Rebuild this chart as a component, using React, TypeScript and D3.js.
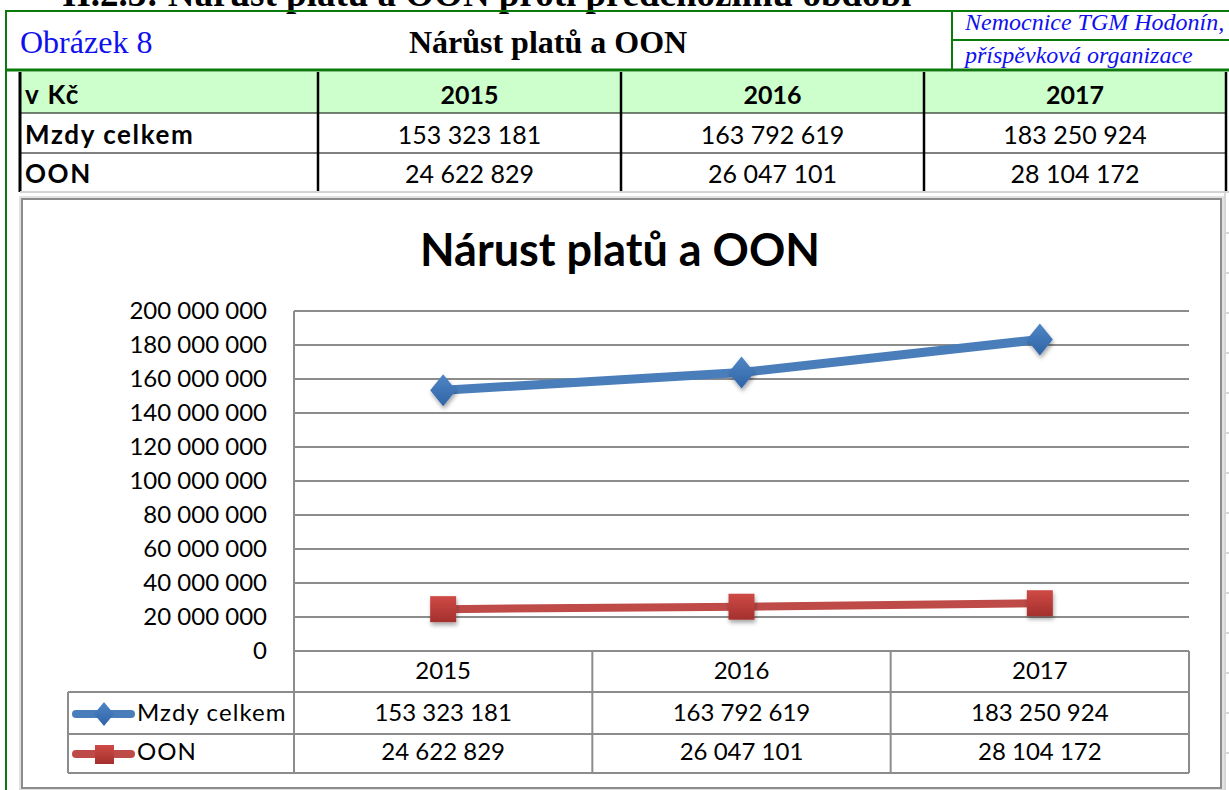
import React from "react";
import * as d3 from "d3";

const years = ["2015", "2016", "2017"];
const seriesNames = ["Mzdy celkem", "OON"];
const mzdy = [153323181, 163792619, 183250924];
const oon = [24622829, 26047101, 28104172];
const yTicks = [0, 20000000, 40000000, 60000000, 80000000, 100000000, 120000000, 140000000, 160000000, 180000000, 200000000];

const W = 1229;
const H = 790;
const SANS = "Lato, 'Open Sans', sans-serif";
const SERIF = "'Liberation Serif', 'Times New Roman', serif";

const cz = d3.formatLocale({ decimal: ",", thousands: " ", grouping: [3], currency: ["", " Kč"] });
const fmt = cz.format(",d");

const BLUE = "#4a7ebb";
const RED = "#be4b48";
const GRID = "#8c8c8c";

export default function App() {
  // plot area of the Excel chart
  const plot = { left: 294, right: 1189, top: 311, bottom: 651 };
  const x = d3.scaleBand().domain(years).range([plot.left, plot.right]);
  const y = d3.scaleLinear().domain([0, 200000000]).range([plot.bottom, plot.top]);
  const cx = (d: string) => (x(d) as number) + x.bandwidth() / 2;

  const line = d3.line<number>()
    .x((_, i) => cx(years[i]))
    .y(d => y(d));

  // top table
  const tCols = [20, 318, 621, 924, 1226];
  const tRows = [72, 113, 153, 192];
  const tableRows = [
    { label: seriesNames[0], values: mzdy },
    { label: seriesNames[1], values: oon },
  ];

  // data table under the chart
  const dtRows = [plot.bottom, 692, 734, 773];
  const dtLeft = 68;

  const diamond = (px: number, py: number, hw: number, hh: number) =>
    `M${px},${py - hh}L${px + hw},${py}L${px},${py + hh}L${px - hw},${py}Z`;

  return (
    <svg width={W} height={H} style={{ position: "fixed", left: 0, top: 0, background: "#fff" }}>
      <defs>
        <filter id="shadow" x="-50%" y="-50%" width="200%" height="200%">
          <feDropShadow dx="1" dy="3" stdDeviation="2" floodColor="#000" floodOpacity="0.35" />
        </filter>
        <linearGradient id="redGrad" x1="0" y1="0" x2="0" y2="1">
          <stop offset="0" stopColor="#cf4a46" />
          <stop offset="1" stopColor="#a3302d" />
        </linearGradient>
        <linearGradient id="blueGrad" x1="0" y1="0" x2="0" y2="1">
          <stop offset="0" stopColor="#4f86c6" />
          <stop offset="1" stopColor="#2f64a6" />
        </linearGradient>
      </defs>

      {/* cut-off heading above */}
      <text x={62} y={6} fontFamily={SERIF} fontWeight="bold" fontSize={37}>
        II.2.3: Nárůst platů a OON proti předchozímu období
      </text>

      {/* green frame header */}
      <g stroke="#0a7a0a" fill="none">
        <line x1={5} x2={W} y1={11} y2={11} strokeWidth={2} />
        <line x1={5} x2={W} y1={70} y2={70} strokeWidth={3} />
        <line x1={6} x2={6} y1={10} y2={H} strokeWidth={2} />
        <line x1={952} x2={952} y1={11} y2={70} strokeWidth={2} />
        <line x1={952} x2={W} y1={40} y2={40} strokeWidth={2} />
      </g>
      <text x={20} y={53} fontFamily={SERIF} fontSize={32} fill="#1010ee">Obrázek 8</text>
      <text x={548} y={53} fontFamily={SERIF} fontSize={32} fontWeight="bold" textAnchor="middle">Nárůst platů a OON</text>
      <text x={965} y={30} fontFamily={SERIF} fontSize={24} fontStyle="italic" fill="#1010ee">Nemocnice TGM Hodonín,</text>
      <text x={965} y={63} fontFamily={SERIF} fontSize={24} fontStyle="italic" fill="#1010ee">příspěvková organizace</text>

      {/* top table */}
      <rect x={tCols[0]} y={tRows[0]} width={tCols[4] - tCols[0]} height={tRows[1] - tRows[0]} fill="#ccffcc" />
      <g stroke="#000">
        {tRows.slice(1, 3).map(r => <line key={r} x1={tCols[0]} x2={tCols[4]} y1={r} y2={r} strokeWidth={1} />)}
        {tCols.map((c, i) => <line key={c} x1={c} x2={c} y1={tRows[0]} y2={tRows[3]} strokeWidth={i === 0 ? 3 : 2.5} />)}
      </g>
      <line x1={tCols[0]} x2={W} y1={tRows[3]} y2={tRows[3]} stroke="#d4d4d4" strokeWidth={2} />
      <text x={25} y={tRows[1] - 9} fontFamily={SANS} fontWeight="bold" fontSize={26} letterSpacing={1.5}>v Kč</text>
      {years.map((yr, i) => (
        <text key={yr} x={(tCols[i + 1] + tCols[i + 2]) / 2} y={tRows[1] - 9} textAnchor="middle"
          fontFamily={SANS} fontWeight="bold" fontSize={25}>{yr}</text>
      ))}
      {tableRows.map((row, r) => (
        <g key={row.label}>
          <text x={25} y={tRows[r + 2] - 9} fontFamily={SANS} fontWeight="bold" fontSize={26} letterSpacing={1.6}>{row.label}</text>
          {row.values.map((v, i) => (
            <text key={i} x={(tCols[i + 1] + tCols[i + 2]) / 2} y={tRows[r + 2] - 9} textAnchor="middle"
              fontFamily={SANS} fontSize={25}>{fmt(v)}</text>
          ))}
        </g>
      ))}

      {/* faint sheet grid at the right edge */}
      <line x1={1225} x2={1225} y1={192} y2={H} stroke="#d6d6d6" strokeWidth={2} />
      {d3.range(233, H, 40).map(v => (
        <line key={v} x1={1225} x2={W} y1={v} y2={v} stroke="#d6d6d6" strokeWidth={2} />
      ))}

      {/* chart area */}
      <rect x={22} y={199} width={1199} height={589} fill="#fff" stroke={GRID} strokeWidth={2} />
      <rect x={20} y={197} width={1203} height={593} fill="none" stroke="#d9d9d9" strokeWidth={1.5} />

      <text x={620} y={266} textAnchor="middle" fontFamily={SANS} fontWeight="bold" fontSize={45}>Nárust platů a OON</text>

      {/* gridlines + y axis */}
      {yTicks.map(t => (
        <g key={t}>
          <line x1={plot.left} x2={plot.right} y1={y(t)} y2={y(t)} stroke={GRID} strokeWidth={2} />
          <text x={267} y={y(t) + 8} textAnchor="end" fontFamily={SANS} fontSize={24}>{fmt(t)}</text>
        </g>
      ))}
      <line x1={plot.left} x2={plot.left} y1={plot.top} y2={dtRows[3]} stroke={GRID} strokeWidth={2} />

      {/* data table */}
      <g stroke={GRID} strokeWidth={2} fill="none">
        <line x1={plot.right} x2={plot.right} y1={dtRows[0]} y2={dtRows[3]} />
        {years.slice(1).map(yr => (
          <line key={yr} x1={x(yr)} x2={x(yr)} y1={dtRows[0]} y2={dtRows[3]} />
        ))}
        <line x1={plot.left} x2={plot.right} y1={dtRows[1]} y2={dtRows[1]} />
        {dtRows.slice(1).map(r => (
          <line key={r} x1={dtLeft} x2={plot.right} y1={r} y2={r} />
        ))}
        <line x1={dtLeft} x2={dtLeft} y1={dtRows[1]} y2={dtRows[3]} />
      </g>
      {years.map(yr => (
        <text key={yr} x={cx(yr)} y={dtRows[1] - 13} textAnchor="middle" fontFamily={SANS} fontSize={24}>{yr}</text>
      ))}
      {[mzdy, oon].map((vals, r) => (
        <g key={r}>
          {vals.map((v, i) => (
            <text key={i} x={cx(years[i])} y={dtRows[r + 2] - 13} textAnchor="middle" fontFamily={SANS} fontSize={24}>{fmt(v)}</text>
          ))}
          <text x={137} y={dtRows[r + 2] - 13} fontFamily={SANS} fontSize={24} letterSpacing={1.1}>{seriesNames[r]}</text>
        </g>
      ))}
      {/* legend keys */}
      <line x1={76} x2={131} y1={714} y2={714} stroke={BLUE} strokeWidth={8} strokeLinecap="round" />
      <path d={diamond(104, 714, 10, 12)} fill="url(#blueGrad)" />
      <line x1={76} x2={131} y1={754} y2={754} stroke={RED} strokeWidth={8} strokeLinecap="round" />
      <rect x={95} y={745} width={19} height={19} fill="url(#redGrad)" />

      {/* series */}
      <path d={line(mzdy) ?? ""} fill="none" stroke={BLUE} strokeWidth={9} strokeLinejoin="round" />
      <path d={line(oon) ?? ""} fill="none" stroke={RED} strokeWidth={8} strokeLinejoin="round" />
      {mzdy.map((v, i) => (
        <path key={i} d={diamond(cx(years[i]), y(v), 13, 16)} fill="url(#blueGrad)" filter="url(#shadow)" />
      ))}
      {oon.map((v, i) => (
        <rect key={i} x={cx(years[i]) - 13} y={y(v) - 13} width={26} height={26} fill="url(#redGrad)" filter="url(#shadow)" />
      ))}
    </svg>
  );
}
